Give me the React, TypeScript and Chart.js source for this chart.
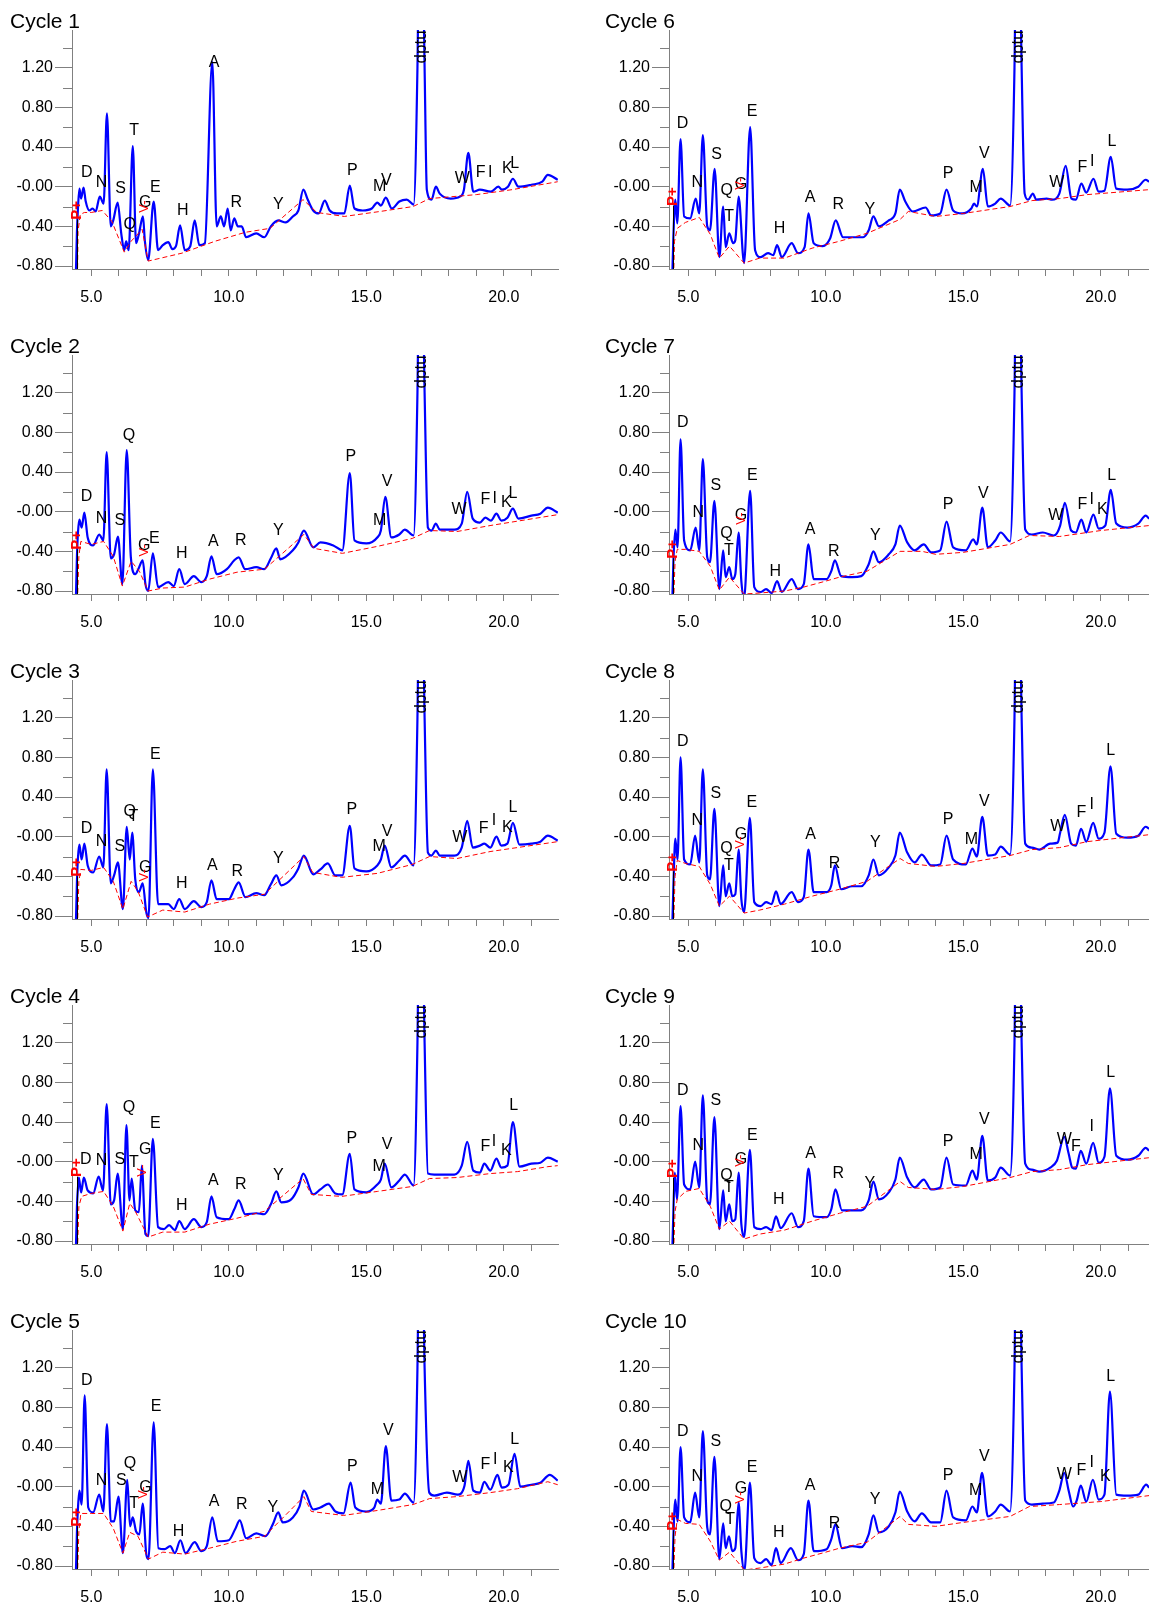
import React, { useEffect, useRef } from 'react';
import { Chart, registerables } from 'chart.js';
Chart.register(...registerables);

type Pt = [number, number];
type Lbl = [string, number, number];

// ---------- axis values ----------
const yTickValues = [-0.8, -0.4, 0, 0.4, 0.8, 1.2];
const yMinorValues = [-0.6, -0.2, 0.2, 0.6, 1.0, 1.4];
const xLabelValues = [5, 10, 15, 20];
const Y_MIN = -0.83;
const Y_MAX = 1.58;
const X_MIN = 4.3;
const DPTU_X = 17.0;
const DPTU_Y = 1.41;

// ---------- Cycle 1 ----------
const cycle1Trace: Pt[] = [[4.44,-0.9],[4.48,-0.45],[4.52,-0.2],[4.57,-0.02],[4.63,-0.12],[4.72,-0.01],[4.8,-0.15],[4.93,-0.24],[5.05,-0.22],[5.16,-0.25],[5.31,-0.1],[5.45,-0.17],[5.57,0.74],[5.71,-0.4],[5.8,-0.34],[5.96,-0.16],[6.09,-0.47],[6.2,-0.64],[6.27,-0.55],[6.36,-0.64],[6.51,0.41],[6.63,-0.57],[6.73,-0.48],[6.88,-0.3],[6.95,-0.55],[7.07,-0.74],[7.27,-0.15],[7.43,-0.64],[7.6,-0.59],[7.8,-0.56],[7.95,-0.63],[8.08,-0.6],[8.23,-0.39],[8.4,-0.64],[8.6,-0.6],[8.76,-0.34],[8.93,-0.59],[9.13,-0.57],[9.4,1.26],[9.56,-0.4],[9.71,-0.3],[9.83,-0.4],[9.96,-0.22],[10.07,-0.44],[10.2,-0.32],[10.33,-0.4],[10.47,-0.4],[10.63,-0.51],[11.0,-0.47],[11.29,-0.51],[11.53,-0.4],[11.8,-0.34],[12.07,-0.36],[12.33,-0.3],[12.53,-0.24],[12.71,-0.03],[12.87,-0.13],[13.07,-0.24],[13.27,-0.27],[13.49,-0.14],[13.67,-0.24],[13.93,-0.27],[14.2,-0.27],[14.4,0.01],[14.57,-0.22],[14.87,-0.24],[15.2,-0.22],[15.4,-0.16],[15.53,-0.19],[15.71,-0.11],[15.93,-0.22],[16.2,-0.15],[16.47,-0.13],[16.72,-0.18],[16.86,1.2],[16.92,2.5],[17.04,2.5],[17.12,1.2],[17.2,-0.03],[17.37,-0.13],[17.53,0.0],[17.67,-0.07],[18.07,-0.12],[18.4,-0.1],[18.55,-0.03],[18.71,0.34],[18.89,-0.05],[19.13,-0.03],[19.53,-0.05],[19.8,0.0],[19.93,-0.03],[20.15,0.0],[20.33,0.08],[20.53,0.0],[21.0,0.02],[21.4,0.05],[21.6,0.12],[21.96,0.07]];
const cycle1Base: Pt[] = [[4.5,-0.9],[4.52,-0.45],[4.6,-0.28],[4.75,-0.26],[5.0,-0.26],[5.4,-0.24],[5.75,-0.35],[6.2,-0.66],[6.45,-0.55],[6.85,-0.43],[7.07,-0.75],[8.3,-0.67],[9.5,-0.55],[10.6,-0.46],[11.5,-0.42],[12.7,-0.13],[13.2,-0.26],[14.2,-0.3],[15.5,-0.25],[16.7,-0.2],[17.3,-0.12],[19.0,-0.08],[20.3,-0.03],[21.96,0.05]];
const cycle1Labels: Lbl[] = [['D',4.84,0.10],['N',5.37,0.0],['S',6.07,-0.06],['Q',6.4,-0.43],['T',6.56,0.52],['G',6.96,-0.2],['E',7.33,-0.05],['H',8.33,-0.29],['A',9.47,1.21],['R',10.27,-0.2],['Y',11.8,-0.22],['P',14.49,0.12],['M',15.49,-0.04],['V',15.73,0.02],['W',18.49,0.04],['F',19.16,0.1],['I',19.51,0.1],['K',20.13,0.14],['L',20.4,0.19]];
const cycle1Marks: Pt[] = [[4.47,-0.24],[6.93,-0.2]];

// ---------- Cycle 2 ----------
const cycle2Trace: Pt[] = [[4.44,-0.9],[4.48,-0.45],[4.52,-0.2],[4.57,-0.08],[4.65,-0.16],[4.75,-0.01],[4.87,-0.26],[5.07,-0.34],[5.29,-0.23],[5.44,-0.29],[5.56,0.6],[5.71,-0.47],[5.83,-0.43],[5.97,-0.25],[6.13,-0.73],[6.29,0.62],[6.44,-0.46],[6.6,-0.63],[6.71,-0.58],[6.87,-0.49],[6.97,-0.73],[7.07,-0.8],[7.24,-0.42],[7.43,-0.76],[7.8,-0.71],[8.0,-0.75],[8.2,-0.58],[8.4,-0.73],[8.73,-0.65],[9.0,-0.71],[9.2,-0.65],[9.37,-0.45],[9.56,-0.63],[9.93,-0.58],[10.2,-0.49],[10.36,-0.46],[10.6,-0.58],[11.0,-0.56],[11.29,-0.58],[11.53,-0.47],[11.73,-0.37],[11.87,-0.48],[12.33,-0.39],[12.53,-0.31],[12.73,-0.19],[13.07,-0.36],[13.33,-0.31],[13.8,-0.34],[14.13,-0.39],[14.4,0.39],[14.57,-0.29],[15.0,-0.32],[15.4,-0.26],[15.53,-0.19],[15.69,0.15],[15.91,-0.26],[16.2,-0.23],[16.4,-0.18],[16.72,-0.24],[16.86,1.2],[16.92,2.5],[17.04,2.5],[17.12,1.2],[17.24,-0.16],[17.37,-0.19],[17.53,-0.12],[17.67,-0.18],[18.2,-0.18],[18.47,-0.12],[18.67,0.2],[18.87,-0.07],[19.13,-0.11],[19.33,-0.06],[19.53,-0.09],[19.73,-0.02],[19.91,-0.09],[20.13,-0.06],[20.33,0.03],[20.53,-0.07],[21.0,-0.04],[21.33,-0.02],[21.6,0.04],[21.96,-0.01]];
const cycle2Base: Pt[] = [[4.5,-0.9],[4.55,-0.45],[4.62,-0.3],[5.0,-0.33],[5.45,-0.3],[5.8,-0.45],[6.13,-0.75],[6.45,-0.5],[6.75,-0.6],[7.07,-0.8],[7.6,-0.77],[8.4,-0.76],[9.3,-0.68],[10.3,-0.61],[11.3,-0.58],[12.73,-0.23],[13.1,-0.37],[14.13,-0.42],[15.4,-0.35],[16.67,-0.27],[17.3,-0.19],[18.3,-0.2],[19.5,-0.14],[21.96,-0.03]];
const cycle2Labels: Lbl[] = [['D',4.83,0.11],['N',5.37,-0.11],['S',6.04,-0.13],['Q',6.37,0.72],['G',6.93,-0.39],['E',7.29,-0.32],['H',8.29,-0.47],['A',9.44,-0.35],['R',10.44,-0.34],['Y',11.8,-0.24],['P',14.44,0.51],['M',15.49,-0.13],['V',15.76,0.26],['W',18.37,-0.02],['F',19.33,0.08],['I',19.67,0.09],['K',20.09,0.05],['L',20.33,0.14]];
const cycle2Marks: Pt[] = [[4.49,-0.29],[6.93,-0.39]];

// ---------- Cycle 3 ----------
const cycle3Trace: Pt[] = [[4.44,-0.9],[4.48,-0.45],[4.52,-0.2],[4.57,-0.08],[4.65,-0.23],[4.75,-0.07],[4.87,-0.29],[5.07,-0.36],[5.29,-0.2],[5.44,-0.31],[5.56,0.68],[5.71,-0.47],[5.83,-0.39],[5.97,-0.26],[6.15,-0.73],[6.29,0.1],[6.4,-0.23],[6.49,0.04],[6.6,-0.43],[6.73,-0.56],[6.87,-0.47],[7.0,-0.76],[7.08,-0.82],[7.24,0.68],[7.43,-0.68],[7.8,-0.68],[8.0,-0.73],[8.2,-0.63],[8.4,-0.73],[8.73,-0.65],[9.0,-0.71],[9.2,-0.66],[9.37,-0.44],[9.56,-0.63],[10.0,-0.63],[10.2,-0.53],[10.36,-0.46],[10.6,-0.61],[11.0,-0.57],[11.29,-0.59],[11.53,-0.48],[11.73,-0.39],[11.91,-0.49],[12.33,-0.41],[12.53,-0.32],[12.73,-0.19],[13.07,-0.38],[13.33,-0.33],[13.6,-0.27],[13.87,-0.39],[14.13,-0.39],[14.4,0.11],[14.57,-0.32],[15.0,-0.35],[15.4,-0.29],[15.53,-0.23],[15.67,-0.09],[15.91,-0.31],[16.2,-0.24],[16.4,-0.19],[16.72,-0.29],[16.86,1.2],[16.92,2.5],[17.04,2.5],[17.12,1.2],[17.24,-0.16],[17.37,-0.19],[17.53,-0.14],[17.67,-0.19],[18.2,-0.19],[18.47,-0.11],[18.67,0.16],[18.87,-0.11],[19.13,-0.09],[19.29,-0.07],[19.51,-0.11],[19.73,0.0],[19.91,-0.09],[20.13,-0.07],[20.33,0.14],[20.57,-0.08],[21.0,-0.07],[21.33,-0.05],[21.6,0.01],[21.96,-0.04]];
const cycle3Base: Pt[] = [[4.5,-0.9],[4.55,-0.45],[4.62,-0.33],[5.0,-0.34],[5.45,-0.31],[5.8,-0.45],[6.15,-0.73],[6.45,-0.45],[6.7,-0.55],[7.05,-0.81],[7.6,-0.74],[8.4,-0.76],[9.3,-0.68],[10.3,-0.62],[11.3,-0.58],[12.73,-0.2],[13.05,-0.36],[14.1,-0.41],[15.4,-0.37],[16.67,-0.28],[17.3,-0.2],[18.3,-0.22],[19.5,-0.15],[21.96,-0.05]];
const cycle3Labels: Lbl[] = [['D',4.83,0.04],['N',5.37,-0.09],['S',6.04,-0.14],['Q',6.4,0.21],['T',6.53,0.16],['G',6.96,-0.36],['E',7.33,0.78],['H',8.29,-0.52],['A',9.4,-0.34],['R',10.31,-0.4],['Y',11.8,-0.27],['P',14.47,0.23],['M',15.47,-0.14],['V',15.76,0.01],['W',18.4,-0.05],['F',19.27,0.04],['I',19.64,0.12],['K',20.13,0.05],['L',20.33,0.25]];
const cycle3Marks: Pt[] = [[4.49,-0.31],[6.93,-0.39]];

// ---------- Cycle 4 ----------
const cycle4Trace: Pt[] = [[4.44,-0.9],[4.48,-0.45],[4.52,-0.25],[4.55,-0.16],[4.63,-0.31],[4.73,-0.16],[4.87,-0.29],[5.07,-0.32],[5.27,-0.15],[5.43,-0.29],[5.56,0.58],[5.71,-0.43],[5.83,-0.39],[5.96,-0.12],[6.15,-0.68],[6.28,0.37],[6.39,-0.39],[6.47,-0.17],[6.6,-0.49],[6.73,-0.51],[6.84,-0.04],[6.97,-0.73],[7.07,-0.75],[7.24,0.23],[7.43,-0.66],[7.64,-0.68],[7.83,-0.64],[8.04,-0.69],[8.2,-0.6],[8.4,-0.68],[8.73,-0.58],[9.0,-0.66],[9.2,-0.61],[9.37,-0.35],[9.56,-0.56],[10.0,-0.58],[10.2,-0.48],[10.36,-0.39],[10.6,-0.53],[11.0,-0.52],[11.29,-0.53],[11.53,-0.43],[11.73,-0.3],[11.91,-0.41],[12.27,-0.38],[12.53,-0.26],[12.71,-0.12],[13.07,-0.33],[13.33,-0.28],[13.6,-0.23],[13.87,-0.32],[14.13,-0.33],[14.4,0.08],[14.57,-0.28],[15.0,-0.31],[15.4,-0.23],[15.53,-0.18],[15.67,-0.02],[15.91,-0.26],[16.2,-0.19],[16.4,-0.13],[16.72,-0.24],[16.86,1.2],[16.92,2.5],[17.04,2.5],[17.12,1.2],[17.24,-0.12],[17.47,-0.13],[18.2,-0.13],[18.47,-0.04],[18.67,0.2],[18.89,-0.09],[19.13,-0.11],[19.29,-0.02],[19.51,-0.09],[19.73,0.03],[19.91,-0.06],[20.13,-0.04],[20.33,0.4],[20.57,-0.05],[21.0,-0.02],[21.33,-0.01],[21.6,0.04],[21.96,0.0]];
const cycle4Base: Pt[] = [[4.5,-0.9],[4.55,-0.45],[4.65,-0.35],[5.0,-0.32],[5.45,-0.3],[5.8,-0.45],[6.15,-0.7],[6.4,-0.42],[6.6,-0.5],[7.07,-0.76],[7.6,-0.71],[8.4,-0.71],[9.3,-0.63],[10.3,-0.57],[11.3,-0.5],[12.7,-0.17],[13.0,-0.33],[14.1,-0.35],[15.4,-0.3],[16.67,-0.25],[17.3,-0.17],[18.3,-0.16],[19.5,-0.12],[20.5,-0.1],[21.6,-0.05],[21.96,-0.04]];
const cycle4Labels: Lbl[] = [['D',4.8,-0.02],['N',5.37,-0.03],['S',6.04,-0.02],['Q',6.37,0.5],['T',6.55,-0.05],['G',6.96,0.08],['E',7.33,0.34],['H',8.29,-0.49],['A',9.44,-0.24],['R',10.44,-0.28],['Y',11.8,-0.18],['P',14.47,0.19],['M',15.47,-0.09],['V',15.76,0.13],['F',19.33,0.11],['I',19.64,0.16],['K',20.09,0.07],['L',20.36,0.52]];
const cycle4Marks: Pt[] = [[4.47,-0.06],[6.87,-0.09]];

// ---------- Cycle 5 ----------
const cycle5Trace: Pt[] = [[4.44,-0.9],[4.48,-0.45],[4.52,-0.2],[4.57,-0.04],[4.65,-0.18],[4.76,0.92],[4.89,-0.21],[5.07,-0.26],[5.29,-0.08],[5.44,-0.25],[5.57,0.63],[5.71,-0.35],[5.83,-0.35],[5.99,-0.1],[6.15,-0.67],[6.31,0.07],[6.41,-0.4],[6.51,-0.31],[6.63,-0.45],[6.75,-0.48],[6.87,-0.17],[7.0,-0.68],[7.08,-0.73],[7.27,0.65],[7.44,-0.62],[7.67,-0.63],[7.87,-0.6],[8.04,-0.67],[8.24,-0.54],[8.43,-0.67],[8.76,-0.56],[9.0,-0.65],[9.2,-0.6],[9.4,-0.31],[9.6,-0.55],[10.0,-0.54],[10.23,-0.43],[10.4,-0.34],[10.63,-0.52],[11.0,-0.47],[11.33,-0.5],[11.6,-0.38],[11.8,-0.26],[11.96,-0.36],[12.33,-0.31],[12.57,-0.2],[12.73,-0.04],[13.07,-0.23],[13.33,-0.21],[13.64,-0.17],[13.87,-0.25],[14.17,-0.27],[14.43,0.04],[14.6,-0.21],[15.0,-0.25],[15.29,-0.21],[15.4,-0.13],[15.53,-0.17],[15.71,0.41],[15.91,-0.14],[16.2,-0.13],[16.4,-0.07],[16.72,-0.16],[16.86,1.2],[16.92,2.5],[17.04,2.5],[17.12,1.2],[17.29,-0.06],[17.47,-0.09],[17.93,-0.06],[18.33,-0.08],[18.57,0.01],[18.71,0.26],[18.89,-0.04],[19.13,-0.06],[19.29,0.05],[19.51,-0.03],[19.77,0.12],[19.93,-0.01],[20.17,0.02],[20.39,0.33],[20.6,0.0],[21.0,0.02],[21.33,0.04],[21.67,0.12],[21.96,0.06]];
const cycle5Base: Pt[] = [[4.5,-0.9],[4.55,-0.45],[4.62,-0.27],[5.0,-0.27],[5.45,-0.27],[5.8,-0.42],[6.15,-0.67],[6.4,-0.46],[6.7,-0.5],[7.08,-0.73],[7.6,-0.66],[8.4,-0.68],[9.3,-0.62],[10.3,-0.55],[11.3,-0.5],[12.73,-0.1],[13.0,-0.25],[14.17,-0.29],[15.4,-0.24],[16.7,-0.18],[17.3,-0.12],[18.3,-0.1],[19.5,-0.06],[20.5,-0.02],[21.6,0.05],[21.96,0.02]];
const cycle5Labels: Lbl[] = [['D',4.84,1.03],['N',5.37,0.02],['S',6.09,0.02],['Q',6.41,0.19],['T',6.56,-0.21],['G',6.97,-0.05],['E',7.36,0.76],['H',8.17,-0.5],['A',9.47,-0.19],['R',10.47,-0.22],['Y',11.6,-0.26],['P',14.49,0.16],['M',15.4,-0.07],['V',15.8,0.52],['W',18.4,0.05],['F',19.33,0.18],['I',19.69,0.23],['K',20.16,0.15],['L',20.4,0.43]];
const cycle5Marks: Pt[] = [[4.49,-0.31],[6.91,-0.06]];

// ---------- Cycle 6 ----------
const cycle6Trace: Pt[] = [[4.42,-0.9],[4.46,-0.5],[4.53,-0.13],[4.6,-0.37],[4.72,0.48],[4.85,-0.3],[5.07,-0.32],[5.27,-0.12],[5.4,-0.27],[5.53,0.52],[5.69,-0.4],[5.79,-0.44],[5.96,0.18],[6.13,-0.71],[6.27,-0.2],[6.36,-0.61],[6.49,-0.47],[6.63,-0.57],[6.71,-0.54],[6.83,-0.1],[7.03,-0.77],[7.25,0.6],[7.43,-0.64],[7.63,-0.71],[7.9,-0.67],[8.09,-0.69],[8.23,-0.59],[8.4,-0.71],[8.76,-0.57],[8.99,-0.67],[9.23,-0.61],[9.37,-0.27],[9.56,-0.57],[9.89,-0.6],[10.16,-0.52],[10.36,-0.34],[10.63,-0.51],[10.96,-0.51],[11.36,-0.51],[11.56,-0.44],[11.73,-0.3],[11.93,-0.4],[12.29,-0.34],[12.53,-0.27],[12.69,-0.03],[12.89,-0.15],[13.16,-0.25],[13.63,-0.21],[13.83,-0.29],[14.16,-0.27],[14.39,-0.03],[14.63,-0.24],[14.96,-0.27],[15.29,-0.22],[15.39,-0.17],[15.49,-0.2],[15.71,0.18],[15.89,-0.2],[16.16,-0.17],[16.36,-0.12],[16.7,-0.19],[16.86,1.2],[16.92,2.5],[17.04,2.5],[17.12,1.2],[17.23,-0.07],[17.36,-0.13],[17.53,-0.07],[17.65,-0.13],[18.03,-0.12],[18.23,-0.13],[18.49,-0.07],[18.72,0.21],[18.93,-0.12],[19.09,-0.13],[19.29,0.03],[19.47,-0.06],[19.73,0.08],[19.92,-0.05],[20.13,-0.04],[20.36,0.3],[20.56,-0.02],[20.96,-0.03],[21.36,0.0],[21.63,0.07],[21.75,0.05]];
const cycle6Base: Pt[] = [[4.47,-0.9],[4.5,-0.55],[4.6,-0.42],[4.9,-0.36],[5.4,-0.31],[5.8,-0.48],[6.13,-0.72],[6.5,-0.6],[7.03,-0.77],[7.6,-0.72],[8.5,-0.72],[9.5,-0.62],[10.5,-0.55],[11.5,-0.47],[12.7,-0.33],[13.0,-0.25],[14.0,-0.3],[15.0,-0.27],[16.7,-0.2],[17.5,-0.14],[18.5,-0.12],[19.5,-0.08],[21.75,-0.03]];
const cycle6Labels: Lbl[] = [['D',4.79,0.59],['N',5.33,0.0],['S',6.03,0.28],['Q',6.4,-0.08],['T',6.49,-0.35],['G',6.92,-0.02],['E',7.32,0.71],['H',8.32,-0.47],['A',9.43,-0.15],['R',10.45,-0.23],['Y',11.6,-0.28],['P',14.45,0.09],['M',15.47,-0.05],['V',15.76,0.29],['W',18.4,0.0],['F',19.33,0.15],['I',19.69,0.21],['L',20.4,0.41]];
const cycle6Marks: Pt[] = [[4.45,-0.1],[6.9,0.03]];

// ---------- Cycle 7 ----------
const cycle7Trace: Pt[] = [[4.42,-0.9],[4.46,-0.5],[4.53,-0.18],[4.61,-0.36],[4.72,0.73],[4.85,-0.29],[5.07,-0.39],[5.27,-0.16],[5.4,-0.39],[5.53,0.53],[5.69,-0.46],[5.79,-0.51],[5.95,0.11],[6.13,-0.78],[6.27,-0.39],[6.36,-0.66],[6.49,-0.56],[6.6,-0.68],[6.71,-0.63],[6.83,-0.21],[6.93,-0.7],[7.03,-0.87],[7.25,0.21],[7.4,-0.76],[7.63,-0.81],[7.83,-0.78],[8.03,-0.82],[8.23,-0.7],[8.4,-0.81],[8.76,-0.68],[8.99,-0.78],[9.2,-0.73],[9.37,-0.33],[9.56,-0.68],[10.03,-0.68],[10.2,-0.6],[10.33,-0.49],[10.56,-0.65],[10.96,-0.66],[11.29,-0.65],[11.56,-0.53],[11.73,-0.4],[11.93,-0.51],[12.29,-0.43],[12.53,-0.33],[12.69,-0.14],[12.96,-0.31],[13.23,-0.39],[13.56,-0.33],[13.83,-0.41],[14.16,-0.39],[14.39,-0.1],[14.63,-0.36],[15.09,-0.39],[15.36,-0.28],[15.49,-0.33],[15.69,0.04],[15.89,-0.36],[16.16,-0.29],[16.36,-0.21],[16.7,-0.3],[16.86,1.2],[16.92,2.5],[17.04,2.5],[17.12,1.2],[17.25,-0.18],[17.49,-0.23],[17.89,-0.21],[18.29,-0.24],[18.52,-0.14],[18.69,0.09],[18.92,-0.19],[19.09,-0.21],[19.29,-0.08],[19.47,-0.21],[19.73,-0.03],[19.92,-0.17],[20.16,-0.14],[20.36,0.22],[20.56,-0.12],[20.96,-0.16],[21.36,-0.12],[21.63,-0.04],[21.75,-0.07]];
const cycle7Base: Pt[] = [[4.47,-0.9],[4.52,-0.5],[4.6,-0.38],[4.9,-0.38],[5.4,-0.4],[5.8,-0.55],[6.13,-0.79],[6.5,-0.66],[7.03,-0.83],[7.6,-0.82],[8.5,-0.8],[9.2,-0.76],[10.0,-0.7],[10.5,-0.66],[11.5,-0.6],[12.7,-0.4],[13.5,-0.4],[14.0,-0.43],[15.0,-0.41],[16.7,-0.33],[17.4,-0.24],[18.5,-0.25],[20.0,-0.19],[21.75,-0.14]];
const cycle7Labels: Lbl[] = [['D',4.8,0.85],['N',5.36,-0.05],['S',6.0,0.22],['Q',6.39,-0.27],['T',6.48,-0.44],['G',6.92,-0.08],['E',7.33,0.32],['H',8.16,-0.65],['A',9.43,-0.23],['R',10.29,-0.45],['Y',11.8,-0.29],['P',14.45,0.03],['V',15.73,0.14],['W',18.36,-0.08],['F',19.33,0.03],['I',19.67,0.08],['K',20.05,-0.02],['L',20.39,0.32]];
const cycle7Marks: Pt[] = [[4.43,-0.38],[6.93,-0.07]];

// ---------- Cycle 8 ----------
const cycle8Trace: Pt[] = [[4.42,-0.9],[4.46,-0.5],[4.53,-0.02],[4.61,-0.23],[4.72,0.8],[4.85,-0.23],[5.07,-0.28],[5.25,0.01],[5.4,-0.26],[5.53,0.68],[5.69,-0.39],[5.79,-0.43],[5.95,0.28],[6.13,-0.7],[6.27,-0.29],[6.36,-0.6],[6.49,-0.47],[6.6,-0.6],[6.71,-0.58],[6.83,-0.13],[6.93,-0.63],[7.03,-0.76],[7.24,0.19],[7.4,-0.66],[7.63,-0.7],[7.83,-0.66],[8.03,-0.68],[8.19,-0.55],[8.36,-0.68],[8.76,-0.56],[8.99,-0.66],[9.2,-0.61],[9.37,-0.13],[9.56,-0.56],[10.03,-0.56],[10.2,-0.49],[10.33,-0.29],[10.56,-0.53],[10.96,-0.5],[11.29,-0.5],[11.56,-0.39],[11.73,-0.23],[11.93,-0.39],[12.29,-0.31],[12.53,-0.19],[12.69,0.04],[12.96,-0.16],[13.23,-0.26],[13.49,-0.18],[13.83,-0.29],[14.16,-0.28],[14.39,0.01],[14.63,-0.23],[15.09,-0.28],[15.33,-0.12],[15.49,-0.2],[15.69,0.2],[15.89,-0.19],[16.16,-0.18],[16.36,-0.1],[16.7,-0.18],[16.86,1.2],[16.92,2.5],[17.04,2.5],[17.12,1.2],[17.25,-0.07],[17.49,-0.11],[17.76,-0.13],[18.16,-0.07],[18.43,-0.06],[18.52,0.04],[18.69,0.22],[18.92,-0.07],[19.09,-0.09],[19.28,0.08],[19.47,-0.05],[19.72,0.14],[19.92,-0.02],[20.13,0.04],[20.35,0.71],[20.56,0.03],[20.96,-0.01],[21.36,0.01],[21.63,0.1],[21.75,0.08]];
const cycle8Base: Pt[] = [[4.47,-0.9],[4.52,-0.4],[4.6,-0.24],[4.9,-0.27],[5.4,-0.3],[5.8,-0.48],[6.13,-0.7],[6.5,-0.6],[7.03,-0.77],[7.6,-0.74],[8.5,-0.68],[9.5,-0.6],[10.5,-0.53],[11.5,-0.45],[12.7,-0.22],[13.0,-0.27],[14.0,-0.3],[15.0,-0.27],[16.7,-0.19],[17.5,-0.13],[18.5,-0.11],[19.5,-0.05],[21.75,0.02]];
const cycle8Labels: Lbl[] = [['D',4.8,0.91],['N',5.33,0.12],['S',6.0,0.39],['Q',6.39,-0.16],['T',6.48,-0.34],['G',6.92,-0.02],['E',7.31,0.3],['A',9.45,-0.02],['R',10.32,-0.32],['Y',11.8,-0.1],['P',14.45,0.13],['M',15.29,-0.07],['V',15.76,0.31],['W',18.43,0.06],['F',19.29,0.2],['I',19.67,0.28],['L',20.36,0.82]];
const cycle8Marks: Pt[] = [[4.43,-0.26],[6.89,-0.06]];

// ---------- Cycle 9 ----------
const cycle9Trace: Pt[] = [[4.42,-0.9],[4.46,-0.5],[4.51,-0.11],[4.59,-0.38],[4.72,0.56],[4.85,-0.23],[5.07,-0.28],[5.25,0.0],[5.4,-0.26],[5.53,0.67],[5.69,-0.39],[5.79,-0.43],[5.95,0.45],[6.13,-0.68],[6.27,-0.29],[6.36,-0.6],[6.49,-0.43],[6.6,-0.6],[6.71,-0.58],[6.83,-0.11],[6.93,-0.63],[7.03,-0.76],[7.24,0.12],[7.4,-0.66],[7.63,-0.68],[7.83,-0.66],[8.03,-0.69],[8.19,-0.55],[8.36,-0.67],[8.76,-0.52],[8.99,-0.66],[9.2,-0.6],[9.37,-0.07],[9.56,-0.55],[10.03,-0.56],[10.2,-0.48],[10.35,-0.28],[10.59,-0.49],[10.96,-0.49],[11.29,-0.49],[11.56,-0.39],[11.73,-0.2],[11.93,-0.38],[12.29,-0.31],[12.53,-0.18],[12.69,0.04],[12.96,-0.16],[13.23,-0.26],[13.56,-0.18],[13.83,-0.28],[14.16,-0.26],[14.39,0.04],[14.63,-0.23],[15.09,-0.24],[15.33,-0.09],[15.49,-0.18],[15.69,0.26],[15.89,-0.19],[16.16,-0.16],[16.36,-0.06],[16.7,-0.14],[16.86,1.2],[16.92,2.5],[17.04,2.5],[17.12,1.2],[17.25,-0.02],[17.49,-0.08],[17.76,-0.1],[18.16,-0.06],[18.4,0.01],[18.67,0.25],[18.83,0.08],[18.96,-0.06],[19.09,-0.07],[19.27,0.11],[19.47,-0.02],[19.72,0.19],[19.92,-0.01],[20.13,0.05],[20.33,0.74],[20.56,0.06],[20.96,0.02],[21.36,0.06],[21.63,0.14],[21.75,0.11]];
const cycle9Base: Pt[] = [[4.47,-0.9],[4.52,-0.5],[4.6,-0.38],[4.9,-0.3],[5.4,-0.27],[5.8,-0.45],[6.13,-0.68],[6.5,-0.6],[7.03,-0.78],[7.6,-0.73],[8.5,-0.69],[9.5,-0.6],[10.5,-0.52],[11.5,-0.45],[12.7,-0.2],[13.0,-0.26],[14.0,-0.28],[15.0,-0.25],[16.7,-0.16],[17.5,-0.1],[18.5,-0.08],[19.5,-0.03],[21.75,0.04]];
const cycle9Labels: Lbl[] = [['D',4.8,0.67],['N',5.36,0.12],['S',6.0,0.57],['Q',6.39,-0.18],['T',6.48,-0.31],['G',6.92,-0.02],['E',7.33,0.22],['H',8.29,-0.43],['A',9.45,0.04],['R',10.45,-0.16],['Y',11.6,-0.27],['P',14.45,0.16],['M',15.47,0.03],['V',15.76,0.38],['W',18.67,0.18],['F',19.09,0.11],['I',19.67,0.31],['L',20.36,0.85]];
const cycle9Marks: Pt[] = [[4.45,-0.07],[6.89,0.01]];

// ---------- Cycle 10 ----------
const cycle10Trace: Pt[] = [[4.42,-0.9],[4.46,-0.5],[4.53,-0.13],[4.61,-0.35],[4.72,0.4],[4.85,-0.31],[5.07,-0.36],[5.25,-0.06],[5.4,-0.31],[5.53,0.56],[5.69,-0.41],[5.79,-0.48],[5.95,0.3],[6.13,-0.73],[6.27,-0.37],[6.36,-0.62],[6.48,-0.5],[6.6,-0.65],[6.71,-0.62],[6.83,-0.16],[6.93,-0.65],[7.04,-0.85],[7.24,0.04],[7.4,-0.72],[7.63,-0.77],[7.83,-0.73],[8.03,-0.79],[8.19,-0.62],[8.36,-0.77],[8.73,-0.62],[8.99,-0.74],[9.2,-0.68],[9.37,-0.14],[9.56,-0.65],[10.03,-0.63],[10.2,-0.53],[10.35,-0.38],[10.59,-0.62],[10.96,-0.6],[11.29,-0.61],[11.56,-0.48],[11.73,-0.29],[11.93,-0.46],[12.29,-0.4],[12.53,-0.26],[12.69,-0.05],[12.96,-0.25],[13.23,-0.35],[13.49,-0.27],[13.83,-0.36],[14.16,-0.36],[14.39,-0.04],[14.63,-0.31],[15.09,-0.34],[15.33,-0.2],[15.49,-0.26],[15.68,0.14],[15.89,-0.3],[16.16,-0.25],[16.36,-0.18],[16.7,-0.25],[16.86,1.2],[16.92,2.5],[17.04,2.5],[17.12,1.2],[17.25,-0.14],[17.49,-0.18],[17.89,-0.17],[18.29,-0.16],[18.49,-0.04],[18.67,0.14],[18.83,-0.04],[18.99,-0.2],[19.12,-0.14],[19.27,0.01],[19.47,-0.15],[19.71,0.07],[19.92,-0.13],[20.13,-0.08],[20.33,0.96],[20.56,-0.08],[20.96,-0.09],[21.36,-0.08],[21.65,0.02],[21.75,-0.01]];
const cycle10Base: Pt[] = [[4.47,-0.9],[4.52,-0.5],[4.6,-0.33],[4.9,-0.37],[5.4,-0.38],[5.8,-0.55],[6.13,-0.74],[6.5,-0.66],[7.04,-0.84],[7.6,-0.82],[8.5,-0.78],[9.2,-0.72],[10.0,-0.66],[10.5,-0.62],[11.5,-0.56],[12.7,-0.3],[13.0,-0.38],[14.0,-0.4],[15.0,-0.36],[16.7,-0.3],[17.4,-0.2],[18.5,-0.18],[20.0,-0.15],[21.75,-0.09]];
const cycle10Labels: Lbl[] = [['D',4.8,0.51],['N',5.33,0.06],['S',6.0,0.41],['Q',6.36,-0.25],['T',6.52,-0.38],['G',6.92,-0.06],['E',7.32,0.15],['H',8.29,-0.51],['A',9.43,-0.03],['R',10.32,-0.42],['Y',11.79,-0.17],['P',14.45,0.07],['M',15.45,-0.08],['V',15.76,0.26],['W',18.67,0.08],['F',19.29,0.12],['I',19.67,0.2],['K',20.16,0.06],['L',20.36,1.07]];
const cycle10Marks: Pt[] = [[4.45,-0.35],[6.89,-0.11]];

interface CycleData { name: string; trace: Pt[]; base: Pt[]; labels: Lbl[]; marks: Pt[]; }
const cycles: CycleData[] = [
  { name: 'Cycle 1', trace: cycle1Trace, base: cycle1Base, labels: cycle1Labels, marks: cycle1Marks },
  { name: 'Cycle 2', trace: cycle2Trace, base: cycle2Base, labels: cycle2Labels, marks: cycle2Marks },
  { name: 'Cycle 3', trace: cycle3Trace, base: cycle3Base, labels: cycle3Labels, marks: cycle3Marks },
  { name: 'Cycle 4', trace: cycle4Trace, base: cycle4Base, labels: cycle4Labels, marks: cycle4Marks },
  { name: 'Cycle 5', trace: cycle5Trace, base: cycle5Base, labels: cycle5Labels, marks: cycle5Marks },
  { name: 'Cycle 6', trace: cycle6Trace, base: cycle6Base, labels: cycle6Labels, marks: cycle6Marks },
  { name: 'Cycle 7', trace: cycle7Trace, base: cycle7Base, labels: cycle7Labels, marks: cycle7Marks },
  { name: 'Cycle 8', trace: cycle8Trace, base: cycle8Base, labels: cycle8Labels, marks: cycle8Marks },
  { name: 'Cycle 9', trace: cycle9Trace, base: cycle9Base, labels: cycle9Labels, marks: cycle9Marks },
  { name: 'Cycle 10', trace: cycle10Trace, base: cycle10Base, labels: cycle10Labels, marks: cycle10Marks },
];

// ---------- styling / layout ----------
const FONT = '"Liberation Sans", Arial, Helvetica, sans-serif';
const AXIS_COLOR = '#808080';
const ROW_PITCH = 325;
const CANVAS_H = 320;

function makeAnnotPlugin(c: CycleData) {
  return {
    id: 'peakAnnot',
    afterDraw(chart: any) {
      const { ctx, chartArea } = chart;
      const xs = chart.scales.x;
      const ys = chart.scales.y;
      ctx.save();
      // minor y ticks
      ctx.strokeStyle = AXIS_COLOR;
      ctx.lineWidth = 1;
      ctx.beginPath();
      for (const v of yMinorValues) {
        const py = Math.round(ys.getPixelForValue(v)) + 0.5;
        ctx.moveTo(chartArea.left - 9, py);
        ctx.lineTo(chartArea.left, py);
      }
      ctx.stroke();
      // peak labels
      ctx.fillStyle = '#000';
      ctx.font = `16px ${FONT}`;
      ctx.textAlign = 'center';
      ctx.textBaseline = 'alphabetic';
      for (const [t, x, y] of c.labels) {
        ctx.fillText(t, xs.getPixelForValue(x), ys.getPixelForValue(y));
      }
      // rotated dptu
      ctx.save();
      ctx.translate(xs.getPixelForValue(DPTU_X), ys.getPixelForValue(DPTU_Y));
      ctx.rotate(-Math.PI / 2);
      ctx.textBaseline = 'middle';
      ctx.font = `17px ${FONT}`;
      ctx.fillText('dptu', 0, 0);
      ctx.restore();
      // red integration marks
      const [pp, vm] = c.marks;
      const ppx = xs.getPixelForValue(pp[0]);
      const ppy = ys.getPixelForValue(pp[1]);
      ctx.strokeStyle = '#000';
      ctx.beginPath();
      ctx.moveTo(Math.round(ppx) + 0.5, ppy + 9);
      ctx.lineTo(Math.round(ppx) + 0.5, chartArea.bottom);
      ctx.stroke();
      ctx.fillStyle = '#ff0000';
      ctx.font = `bold 15px ${FONT}`;
      ctx.save();
      ctx.translate(ppx, ppy);
      ctx.rotate(-Math.PI / 2);
      ctx.textBaseline = 'middle';
      ctx.fillText('P+', 0, 0);
      ctx.restore();
      ctx.font = `13px ${FONT}`;
      ctx.save();
      ctx.translate(xs.getPixelForValue(vm[0]), ys.getPixelForValue(vm[1]));
      ctx.rotate(-Math.PI / 2);
      ctx.textBaseline = 'middle';
      ctx.fillText('V-', 0, 0);
      ctx.restore();
      ctx.restore();
    },
  };
}

function Panel({ c, left, top, width, xMax, padRight }: { c: CycleData; left: number; top: number; width: number; xMax: number; padRight: number }) {
  const ref = useRef<HTMLCanvasElement>(null);
  useEffect(() => {
    const chart = new Chart(ref.current as HTMLCanvasElement, {
      type: 'line',
      data: {
        datasets: [
          {
            data: c.base.map(([x, y]) => ({ x, y })),
            borderColor: '#ff0000',
            borderWidth: 1,
            borderDash: [5, 3],
            pointRadius: 0,
            tension: 0,
          },
          {
            data: c.trace.map(([x, y]) => ({ x, y })),
            borderColor: '#0000ff',
            borderWidth: 2.2,
            pointRadius: 0,
            cubicInterpolationMode: 'monotone',
          },
        ],
      },
      options: {
        responsive: false,
        maintainAspectRatio: false,
        animation: false,
        events: [],
        layout: { padding: { left: 0, right: padRight, top: 30, bottom: 0 } },
        plugins: { legend: { display: false }, tooltip: { enabled: false }, title: { display: false } },
        scales: {
          x: {
            type: 'linear',
            min: X_MIN,
            max: xMax,
            ticks: {
              stepSize: 1,
              autoSkip: false,
              maxRotation: 0,
              includeBounds: false,
              padding: 12,
              color: '#000',
              font: { family: FONT, size: 16 },
              callback: (v: any) => (xLabelValues.includes(Number(v)) ? Number(v).toFixed(1) : ''),
            },
            grid: { drawOnChartArea: false, tickLength: 7, color: AXIS_COLOR },
            border: { display: true, color: AXIS_COLOR },
            afterFit: (s: any) => { s.height = CANVAS_H - 269; },
          },
          y: {
            type: 'linear',
            min: Y_MIN,
            max: Y_MAX,
            ticks: {
              stepSize: 0.4,
              includeBounds: false,
              padding: 2,
              color: '#000',
              font: { family: FONT, size: 16 },
              callback: (v: any) => {
                const n = Number(v);
                const hit = yTickValues.find((t) => Math.abs(t - n) < 1e-6);
                if (hit === undefined) return '';
                return Math.abs(hit) < 1e-9 ? '-0.00' : hit.toFixed(2);
              },
            },
            grid: { drawOnChartArea: false, tickLength: 17, color: AXIS_COLOR },
            border: { display: true, color: AXIS_COLOR },
            afterFit: (s: any) => { s.width = 72; },
          },
        },
      },
      plugins: [makeAnnotPlugin(c)],
    } as any);
    return () => chart.destroy();
  }, []);
  return (
    <canvas
      ref={ref}
      width={width}
      height={CANVAS_H}
      style={{ position: 'absolute', left, top, width, height: CANVAS_H }}
    />
  );
}

export default function App() {
  const panels: React.ReactNode[] = [];
  cycles.forEach((c, i) => {
    const col = i < 5 ? 0 : 1;
    const row = i % 5;
    const top = row * ROW_PITCH;
    const left = col === 0 ? 0 : 597;
    const width = col === 0 ? 560 : 552;
    const xMax = col === 0 ? 21.97 : 21.75;
    const padRight = col === 0 ? 2 : 0;
    panels.push(<Panel key={'p' + i} c={c} left={left} top={top} width={width} xMax={xMax} padRight={padRight} />);
    panels.push(
      <div
        key={'t' + i}
        style={{
          position: 'absolute',
          left: col === 0 ? 10 : 605,
          top: top + 10,
          font: `21px ${FONT}`,
          lineHeight: '21px',
          color: '#000',
          whiteSpace: 'nowrap',
        }}
      >
        {c.name}
      </div>
    );
  });
  return (
    <div style={{ position: 'absolute', left: 0, top: 0, width: 1149, height: 1604, overflow: 'hidden', background: '#fff' }}>
      {panels}
    </div>
  );
}
